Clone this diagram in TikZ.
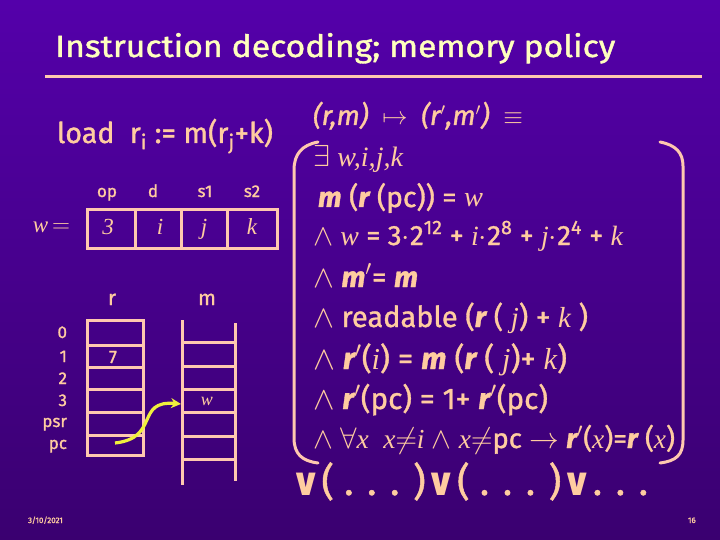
\documentclass[tikz,border=0pt]{standalone}
\usepackage{fontspec}
\setmainfont{Fira Sans}[FakeBold=1.2]
\newfontfamily\djv{DejaVu Sans}
\newfontfamily\tms{Liberation Serif}
\usetikzlibrary{arrows.meta}
\definecolor{bgtop}{RGB}{84,0,170}
\definecolor{bgbot}{RGB}{58,0,112}
\definecolor{ttl}{RGB}{255,255,190}
\definecolor{txt}{RGB}{255,204,160}
\definecolor{ln}{RGB}{255,200,175}
\definecolor{arr}{RGB}{240,240,60}
\newcommand\fs[1]{\fontsize{#1}{#1}\selectfont}
\newcommand\BI[1]{{\bfseries\itshape #1}}
\newcommand\V[1]{{\tms\itshape #1}}
\begin{document}
\begin{tikzpicture}[x=1pt,y=-1pt,
  txtnode/.style={inner sep=0pt,outer sep=0pt,text=txt,anchor=base west},
  ctr/.style={inner sep=0pt,outer sep=0pt,text=txt,anchor=base},
  rgt/.style={inner sep=0pt,outer sep=0pt,text=txt,anchor=base east},
  boxline/.style={draw=ln,line width=3pt},
  paren/.style={draw=ln,line width=3pt,line cap=round},
  ptr/.style={draw=arr,line width=3.2pt,-{Stealth[length=10pt,width=10pt]}}]
\shade[top color=bgtop,bottom color=bgbot] (0,0) rectangle (720,540);
\useasboundingbox (0,0) rectangle (720,540);
% title
\node[inner sep=0pt,anchor=base west,text=ttl] (title) at (55,57)
  {\resizebox{560pt}{24pt}{Instruction decoding; memory policy}};
\draw[draw=ln,line width=3pt] (45,77) -- (702,77);
% left: instruction
\node[txtnode] (load) at (57,143) {\resizebox{216pt}{!}{\fs{26}load\ \ r\textsubscript{i} := m(r\textsubscript{j}+k)}};
\node[ctr] (hop) at (107,197) {\fs{17}op};
\node[ctr] (hd) at (153,197) {\fs{17}d};
\node[ctr] (hs1) at (205,197) {\fs{17}s1};
\node[ctr] (hs2) at (252,197) {\fs{17}s2};
\node[rgt] (weq) at (70,233) {\fs{23}\V{w}\,$=$};
\draw[boxline] (87,210) rectangle (277,248);
\draw[boxline] (135,210) -- (135,248) (181,210) -- (181,248) (227,210) -- (227,248);
\node[ctr] (v3) at (108,235) {\fs{23}\V{3}};
\node[ctr] (vi) at (160,235) {\fs{23}\V{i}};
\node[ctr] (vj) at (204,235) {\fs{23}\V{j}};
\node[ctr] (vk) at (252,235) {\fs{23}\V{k}};
% registers
\node[ctr] (rlab) at (112,305) {\fs{21}r};
\node[ctr] (mlab) at (207,305) {\fs{21}m};
\draw[boxline] (87,320) rectangle (143,455);
\foreach \y in {345,367,389,412,435} \draw[boxline] (87,\y) -- (143,\y);
\node[rgt] (r0) at (67,338) {\fs{17}0};
\node[rgt] (r1) at (67,362) {\fs{17}1};
\node[rgt] (r2) at (67,384) {\fs{17}2};
\node[rgt] (r3) at (67,406) {\fs{17}3};
\node[rgt] (rpsr) at (67,427) {\fs{17}psr};
\node[rgt] (rpc) at (67,449) {\fs{17}pc};
\node[ctr] (seven) at (113,363) {\fs{18}7};
% memory
\draw[boxline] (182,320) -- (182,485);
\draw[boxline] (235,323) -- (235,481);
\foreach \y in {342,366,389,412,436,459} \draw[boxline] (182,\y) -- (235,\y);
\node[ctr] (mw) at (207,405) {\fs{18}\V{w}};
% arrow
\coordinate (pcsrc) at (115,443);
\coordinate (mwin) at (181,404);
\draw[ptr] (pcsrc) .. controls (160,438) and (135,400) .. (mwin);
% right side
\node[txtnode] (l1) at (313,125) {\resizebox{210pt}{!}{\fs{27}\itshape (r,m)\enspace\upshape$\mapsto$\enspace\itshape(r$'$,m$'$)\enspace\upshape$\equiv$}};
\draw[paren] (318,142) .. controls (302,145) and (294,154) .. (294,170) -- (294,438) .. controls (294,454) and (302,461) .. (318,463);
\draw[paren] (660,142) .. controls (676,145) and (683,153) .. (683,166) -- (683,440) .. controls (683,455) and (676,461) .. (660,463);
\node[txtnode] (l2) at (313,167) {\resizebox{90pt}{!}{\fs{23}$\exists$\ \V{w,i,j,k}}};
\node[txtnode] (l3) at (318,207) {\resizebox{165pt}{!}{\fs{23}\BI{m} (\BI{r} (pc)) = \V{w}}};
\node[txtnode] (l4) at (313,245) {\resizebox{310pt}{!}{\fs{23}$\wedge$ \V{w} = 3$\cdot$2\textsuperscript{12} + \V{i}$\cdot$2\textsuperscript{8} + \V{j}$\cdot$2\textsuperscript{4} + \V{k}}};
\node[txtnode] (l5) at (313,287) {\resizebox{105pt}{!}{\fs{23}$\wedge$ \BI{m}$'$= \BI{m}}};
\node[txtnode] (l6) at (313,327) {\resizebox{275pt}{!}{\fs{23}$\wedge$ readable (\BI{r} ( \V{j}) + \V{k} )}};
\node[txtnode] (l7) at (313,369) {\resizebox{254pt}{!}{\fs{23}$\wedge$ \BI{r}$'$(\V{i}) = \BI{m} (\BI{r} ( \V{j})+ \V{k})}};
\node[txtnode] (l8) at (313,409) {\resizebox{235pt}{!}{\fs{23}$\wedge$ \BI{r}$'$(pc) = 1+ \BI{r}$'$(pc)}};
\node[txtnode] (l9) at (313,448) {\resizebox{362pt}{!}{\fs{23}$\wedge$ $\forall$\V{x}\ \ \V{x}$\neq$\V{i} $\wedge$ \V{x}$\neq$pc $\rightarrow$ \BI{r}$'$(\V{x})=\BI{r} (\V{x})}};
\node[txtnode] (l10) at (290,495) {\resizebox{358pt}{!}{\fs{32}{\djv\bfseries ∨}( . . . ){\djv\bfseries ∨}( . . . ){\djv\bfseries ∨}. . .}};
% footer
\node[txtnode] (date) at (28,523) {\fs{8}3/10/2021};
\node[txtnode] (pg) at (688,523) {\fs{8}16};
\end{tikzpicture}
\end{document}
